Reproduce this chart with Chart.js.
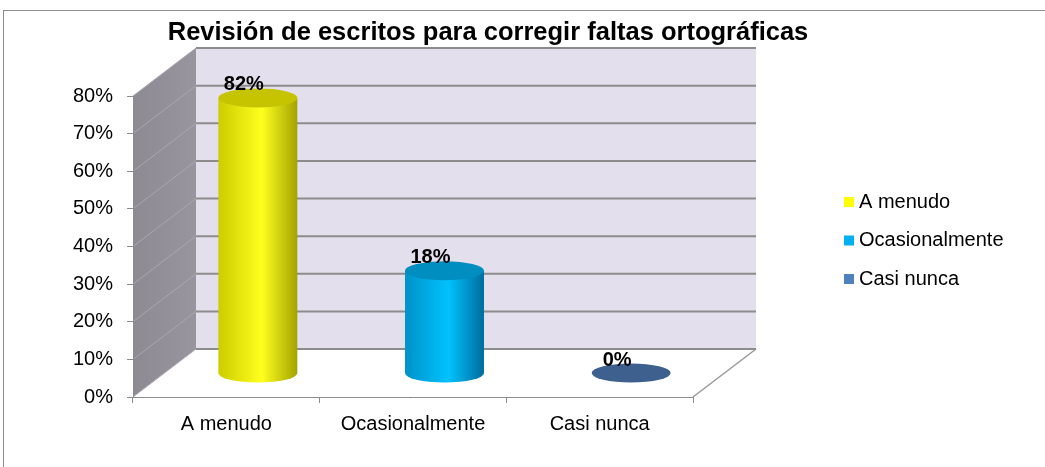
<!DOCTYPE html>
<html>
<head>
<meta charset="utf-8">
<script src="https://cdn.jsdelivr.net/npm/chart.js@4/dist/chart.umd.min.js"></script>
<style>
  body { margin: 0; background: #fff; }
  #grafico { display: block; }
</style>
</head>
<body>
<canvas id="grafico" width="1045" height="467"></canvas>
<script>
var titulo = 'Revisión de escritos para corregir faltas ortográficas';
var categorias = ['A menudo', 'Ocasionalmente', 'Casi nunca'];
var porcentajes = [82, 18, 0];
var ticksY = [0, 10, 20, 30, 40, 50, 60, 70, 80];
var coloresLeyenda = ['#ffff00', '#00b0f0', '#4f81bd'];

// colores de los cilindros: [borde izq, centro, borde der, tapa]
var cilindros = [
  ['#cccc00', '#ffff1e', '#a3a300', '#c6c300'],
  ['#0092c9', '#00c2ff', '#006c9c', '#008dc0'],
  ['#3d608e', '#3d608e', '#3d608e', '#3d608e']
];

var dx = 63, dy = 48;

Chart.defaults.font.family = 'Liberation Sans, Arial, sans-serif';
Chart.defaults.font.size = 20;
Chart.defaults.color = '#000';

var fondo3d = {
  id: 'fondo3d',
  beforeDraw: function (chart) {
    var ctx = chart.ctx, a = chart.chartArea, y = chart.scales.y;
    ctx.save();
    ctx.fillStyle = '#fff';
    ctx.fillRect(0, 0, chart.width, chart.height);

    // pared del fondo
    ctx.fillStyle = '#e4dfec';
    ctx.fillRect(a.left + dx, a.top - dy, a.right - a.left, a.bottom - a.top);

    // pared lateral
    var g = ctx.createLinearGradient(a.left, 0, a.left + dx, 0);
    g.addColorStop(0, '#8d8a93');
    g.addColorStop(1, '#98959e');
    ctx.fillStyle = g;
    ctx.beginPath();
    ctx.moveTo(a.left, a.bottom);
    ctx.lineTo(a.left, a.top);
    ctx.lineTo(a.left + dx, a.top - dy);
    ctx.lineTo(a.left + dx, a.bottom - dy);
    ctx.closePath();
    ctx.fill();

    // suelo
    ctx.fillStyle = '#fff';
    ctx.beginPath();
    ctx.moveTo(a.left, a.bottom);
    ctx.lineTo(a.right, a.bottom);
    ctx.lineTo(a.right + dx, a.bottom - dy);
    ctx.lineTo(a.left + dx, a.bottom - dy);
    ctx.closePath();
    ctx.fill();
    ctx.strokeStyle = '#9a9a9a';
    ctx.lineWidth = 1.5;
    ctx.beginPath();
    ctx.moveTo(a.right, a.bottom);
    ctx.lineTo(a.right + dx, a.bottom - dy);
    ctx.stroke();

    // lineas de division
    ticksY.forEach(function (v) {
      var py = y.getPixelForValue(v);
      ctx.strokeStyle = '#aaa8ae';
      ctx.lineWidth = 1;
      ctx.beginPath();
      ctx.moveTo(a.left, py);
      ctx.lineTo(a.left + dx, py - dy);
      ctx.stroke();
      ctx.strokeStyle = '#8c8c8c';
      ctx.lineWidth = 2;
      ctx.beginPath();
      ctx.moveTo(a.left + dx, py - dy);
      ctx.lineTo(a.right + dx, py - dy);
      ctx.stroke();
    });
    ctx.restore();
  },
  afterDatasetsDraw: function (chart) {
    var ctx = chart.ctx, a = chart.chartArea;
    var meta = chart.getDatasetMeta(0);
    ctx.save();
    meta.data.forEach(function (bar, i) {
      var c = cilindros[i];
      var cx = bar.x + dx / 2, rx = bar.width / 2, ry = 9.5;
      var base = a.bottom - dy / 2;
      var top = porcentajes[i] > 0 ? bar.y : base;
      if (porcentajes[i] > 0) {
        var g = ctx.createLinearGradient(cx - rx, 0, cx + rx, 0);
        g.addColorStop(0, c[0]);
        g.addColorStop(0.55, c[1]);
        g.addColorStop(1, c[2]);
        ctx.fillStyle = g;
        ctx.beginPath();
        ctx.moveTo(cx - rx, top);
        ctx.lineTo(cx - rx, base);
        ctx.ellipse(cx, base, rx, ry, 0, Math.PI, 0, true);
        ctx.lineTo(cx + rx, top);
        ctx.closePath();
        ctx.fill();
      }
      ctx.fillStyle = c[3];
      ctx.beginPath();
      ctx.ellipse(cx, top, rx, ry, 0, 0, Math.PI * 2);
      ctx.fill();

      ctx.fillStyle = '#000';
      ctx.font = 'bold 20px Liberation Sans, Arial, sans-serif';
      ctx.textAlign = 'center';
      ctx.textBaseline = 'middle';
      ctx.fillText(porcentajes[i] + '%', cx - 14, top - 13);
    });
    ctx.restore();
  },
  afterDraw: function (chart) {
    var ctx = chart.ctx;
    ctx.save();
    ctx.strokeStyle = '#8c8c8c';
    ctx.lineWidth = 1;
    ctx.strokeRect(3.5, 10.5, 1200, 600);

    ctx.fillStyle = '#000';
    ctx.font = 'bold 25.5px Liberation Sans, Arial, sans-serif';
    ctx.textAlign = 'center';
    ctx.textBaseline = 'alphabetic';
    ctx.fillText(titulo, 488, 40);

    ctx.font = '20px Liberation Sans, Arial, sans-serif';
    ctx.textAlign = 'left';
    ctx.textBaseline = 'middle';
    categorias.forEach(function (cat, i) {
      var yc = 202 + i * 38.5;
      ctx.fillStyle = coloresLeyenda[i];
      ctx.fillRect(844, yc - 5, 10, 10);
      ctx.fillStyle = '#000';
      ctx.fillText(cat, 859, yc);
    });
    ctx.restore();
  }
};

var chart = new Chart(document.getElementById('grafico'), {
  type: 'bar',
  data: {
    labels: categorias,
    datasets: [{
      label: titulo,
      data: porcentajes,
      yAxisID: 'y2',
      backgroundColor: 'rgba(0,0,0,0)',
      categoryPercentage: 1,
      barPercentage: 0.423
    }]
  },
  options: {
    responsive: false,
    animation: false,
    layout: { padding: { left: 73, top: 96, right: 352, bottom: 0 } },
    plugins: {
      legend: { display: false },
      title: { display: false },
      tooltip: { enabled: false }
    },
    scales: {
      x: {
        grid: { drawOnChartArea: false, tickLength: 6, color: '#8c8c8c' },
        border: { color: '#8c8c8c' },
        ticks: { padding: 9, color: '#000' },
        afterFit: function (s) { s.height = 70; }
      },
      y: {
        min: 0,
        max: 80,
        grid: { drawOnChartArea: false, tickLength: 6, color: '#8c8c8c' },
        border: { color: '#8c8c8c' },
        ticks: { padding: 14, color: '#000', callback: function (v) { return v + '%'; } },
        afterBuildTicks: function (s) { s.ticks = ticksY.map(function (v) { return { value: v }; }); },
        afterFit: function (s) { s.width = 60; }
      },
      y2: { display: false, min: -28.8, max: 82.7 }
    }
  },
  plugins: [fondo3d]
});
</script>
</body>
</html>
